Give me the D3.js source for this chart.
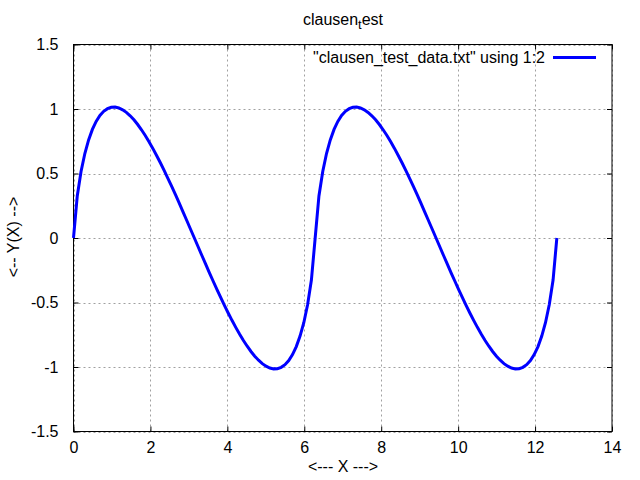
<!DOCTYPE html>
<html>
<head>
<meta charset="utf-8">
<script src="https://cdn.jsdelivr.net/npm/d3@7"></script>
<style>
  html, body { margin: 0; padding: 0; background: #fff; }
  svg { display: block; }
  text { font-family: "Liberation Sans", Arial, sans-serif; font-size: 16px; fill: #000; }
</style>
</head>
<body>
<svg id="chart" width="640" height="480"></svg>
<script>
const titleMain = "clausen";
const titleSub = "t";
const titleRest = "est";
const xLabel = "<--- X --->";
const yLabel = "<-- Y(X) -->";
const legendLabel = "\"clausen_test_data.txt\" using 1:2";

const xTicks = [0, 2, 4, 6, 8, 10, 12, 14];
const yTicks = [-1.5, -1, -0.5, 0, 0.5, 1, 1.5];

const xValues = [
  0, 0.098, 0.196, 0.295, 0.393, 0.491, 0.589, 0.687, 0.785, 0.884,
  0.982, 1.080, 1.178, 1.276, 1.374, 1.473, 1.571, 1.669, 1.767, 1.865,
  1.963, 2.062, 2.160, 2.258, 2.356, 2.454, 2.553, 2.651, 2.749, 2.847,
  2.945, 3.043, 3.142, 3.240, 3.338, 3.436, 3.534, 3.632, 3.731, 3.829,
  3.927, 4.025, 4.123, 4.222, 4.320, 4.418, 4.516, 4.614, 4.712, 4.811,
  4.909, 5.007, 5.105, 5.203, 5.301, 5.400, 5.498, 5.596, 5.694, 5.792,
  5.890, 5.989, 6.087, 6.185, 6.283, 6.381, 6.480, 6.578, 6.676, 6.774,
  6.872, 6.970, 7.069, 7.167, 7.265, 7.363, 7.461, 7.559, 7.658, 7.756,
  7.854, 7.952, 8.050, 8.149, 8.247, 8.345, 8.443, 8.541, 8.639, 8.738,
  8.836, 8.934, 9.032, 9.130, 9.228, 9.327, 9.425, 9.523, 9.621, 9.719,
  9.817, 9.916, 10.014, 10.112, 10.210, 10.308, 10.407, 10.505, 10.603, 10.701,
  10.799, 10.897, 10.996, 11.094, 11.192, 11.290, 11.388, 11.486, 11.585, 11.683,
  11.781, 11.879, 11.977, 12.076, 12.174, 12.272, 12.370, 12.468, 12.566
];

const yValues = [
  0, 0.3261, 0.5161, 0.6549, 0.7606, 0.8418, 0.9036, 0.9495, 0.9819, 1.0026,
  1.0130, 1.0145, 1.0079, 0.9940, 0.9737, 0.9475, 0.9160, 0.8796, 0.8389, 0.7943,
  0.7459, 0.6945, 0.6401, 0.5831, 0.5239, 0.4627, 0.3995, 0.3353, 0.2697, 0.2031,
  0.1358, 0.0680, 0, -0.0680, -0.1358, -0.2031, -0.2697, -0.3353, -0.3995, -0.4627,
  -0.5239, -0.5831, -0.6401, -0.6945, -0.7459, -0.7943, -0.8389, -0.8796, -0.9160, -0.9475,
  -0.9737, -0.9940, -1.0079, -1.0145, -1.0130, -1.0026, -0.9819, -0.9495, -0.9036, -0.8418,
  -0.7606, -0.6549, -0.5161, -0.3261, 0, 0.3261, 0.5161, 0.6549, 0.7606, 0.8418,
  0.9036, 0.9495, 0.9819, 1.0026, 1.0130, 1.0145, 1.0079, 0.9940, 0.9737, 0.9475,
  0.9160, 0.8796, 0.8389, 0.7943, 0.7459, 0.6945, 0.6401, 0.5831, 0.5239, 0.4627,
  0.3995, 0.3353, 0.2697, 0.2031, 0.1358, 0.0680, 0, -0.0680, -0.1358, -0.2031,
  -0.2697, -0.3353, -0.3995, -0.4627, -0.5239, -0.5831, -0.6401, -0.6945, -0.7459, -0.7943,
  -0.8389, -0.8796, -0.9160, -0.9475, -0.9737, -0.9940, -1.0079, -1.0145, -1.0130, -1.0026,
  -0.9819, -0.9495, -0.9036, -0.8418, -0.7606, -0.6549, -0.5161, -0.3261, 0
];

const points = xValues.map((x, i) => ({ x: x, y: yValues[i] }));

const margin = { left: 73.5, right: 28, top: 44.5, bottom: 48.5 };
const W = 640, H = 480;
const svg = d3.select("#chart");

const x = d3.scaleLinear().domain([0, 14]).range([margin.left, W - margin.right]);
const y = d3.scaleLinear().domain([-1.5, 1.5]).range([H - margin.bottom, margin.top]);

// grid
const grid = svg.append("g").attr("stroke", "#a0a0a0").attr("stroke-width", 1)
  .attr("stroke-dasharray", "2,3");
grid.selectAll("line.gx").data(xTicks).enter().append("line")
  .attr("x1", d => Math.round(x(d)) + 0.5).attr("x2", d => Math.round(x(d)) + 0.5)
  .attr("y1", y(-1.5)).attr("y2", y(1.5));
grid.selectAll("line.gy").data(yTicks).enter().append("line")
  .attr("y1", d => Math.round(y(d)) + 0.5).attr("y2", d => Math.round(y(d)) + 0.5)
  .attr("x1", x(0)).attr("x2", x(14));

// axes with inward ticks
const tickLen = 5;
const xAxisB = d3.axisBottom(x).tickValues(xTicks).tickSize(-tickLen).tickPadding(tickLen + 5).tickFormat(d3.format("d"));
const xAxisT = d3.axisTop(x).tickValues(xTicks).tickSize(-tickLen).tickFormat("");
const yAxisL = d3.axisLeft(y).tickValues(yTicks).tickSize(-tickLen).tickPadding(tickLen + 10).tickFormat(d => String(d));
const yAxisR = d3.axisRight(y).tickValues(yTicks).tickSize(-tickLen).tickFormat("");

function styleAxis(g) {
  g.select(".domain").remove();
  g.selectAll("line").attr("stroke", "#000");
  g.selectAll("text").attr("font-family", "Liberation Sans, Arial, sans-serif").attr("font-size", 16).attr("fill", "#000");
}
svg.append("g").attr("transform", `translate(0,${y(-1.5)})`).call(xAxisB).call(styleAxis);
svg.append("g").attr("transform", `translate(0,${y(1.5)})`).call(xAxisT).call(styleAxis);
svg.append("g").attr("transform", `translate(${x(0)},0)`).call(yAxisL).call(styleAxis);
svg.append("g").attr("transform", `translate(${x(14)},0)`).call(yAxisR).call(styleAxis);

// border
svg.append("rect")
  .attr("x", x(0)).attr("y", y(1.5))
  .attr("width", x(14) - x(0)).attr("height", y(-1.5) - y(1.5))
  .attr("fill", "none").attr("stroke", "#000").attr("stroke-width", 1);

// data line
const line = d3.line().x(d => x(d.x)).y(d => y(d.y));
svg.append("path").datum(points)
  .attr("d", line)
  .attr("fill", "none").attr("stroke", "#0000ff").attr("stroke-width", 3)
  .attr("stroke-linejoin", "miter");

// legend
svg.append("text").attr("x", 545).attr("y", 63).attr("text-anchor", "end").text(legendLabel);
svg.append("line").attr("x1", 553).attr("x2", 596).attr("y1", 57.5).attr("y2", 57.5)
  .attr("stroke", "#0000ff").attr("stroke-width", 3);

// title
const t = svg.append("text").attr("x", 343).attr("y", 25).attr("text-anchor", "middle");
t.append("tspan").text(titleMain);
t.append("tspan").attr("font-size", 13).attr("dy", 4).text(titleSub);
t.append("tspan").attr("dy", -4).text(titleRest);

// axis labels
svg.append("text").attr("x", 343).attr("y", 472).attr("text-anchor", "middle").text(xLabel);
svg.append("text").attr("transform", "translate(19,237) rotate(-90)").attr("text-anchor", "middle").text(yLabel);
</script>
</body>
</html>
